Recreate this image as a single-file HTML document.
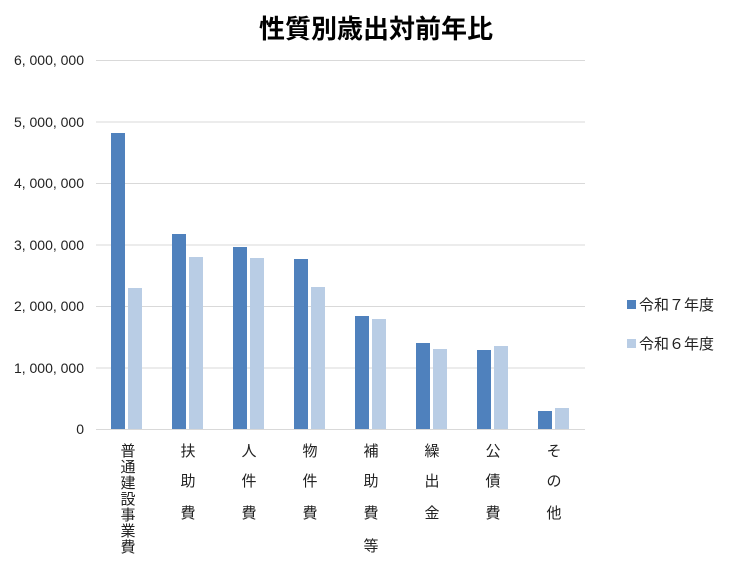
<!DOCTYPE html>
<html><head><meta charset="utf-8"><style>
body{margin:0;background:#fff}
text{font-family:"Liberation Sans","Noto Sans CJK JP",sans-serif;fill:#222}
</style></head><body>
<svg width="751" height="583" xmlns="http://www.w3.org/2000/svg">
<text x="376" y="38" font-size="26" font-weight="bold" text-anchor="middle" style="fill:#000">性質別歳出対前年比</text>
<g stroke="#d9d9d9" stroke-width="1">
<line x1="96" x2="585" y1="60.5" y2="60.5"/><line x1="96" x2="585" y1="122" y2="122"/>
<line x1="96" x2="585" y1="183.5" y2="183.5"/><line x1="96" x2="585" y1="245" y2="245"/>
<line x1="96" x2="585" y1="306.5" y2="306.5"/><line x1="96" x2="585" y1="368" y2="368"/>
<line x1="96" x2="585" y1="429.5" y2="429.5"/>
</g>
<g font-size="14" text-anchor="end">
<text x="84" y="65">6, 000, 000</text><text x="84" y="127">5, 000, 000</text>
<text x="84" y="188">4, 000, 000</text><text x="84" y="250">3, 000, 000</text>
<text x="84" y="311">2, 000, 000</text><text x="84" y="373">1, 000, 000</text>
<text x="84" y="434">0</text>
</g>
<g fill="#4f81bd">
<rect x="111" y="133" width="14" height="296"/>
<rect x="172" y="234" width="14" height="195"/>
<rect x="233" y="247" width="14" height="182"/>
<rect x="294" y="259" width="14" height="170"/>
<rect x="355" y="316" width="14" height="113"/>
<rect x="416" y="343" width="14" height="86"/>
<rect x="477" y="350" width="14" height="79"/>
<rect x="538" y="411" width="14" height="18"/>
</g>
<g fill="#b9cde5">
<rect x="128" y="288" width="14" height="141"/>
<rect x="189" y="257" width="14" height="172"/>
<rect x="250" y="258" width="14" height="171"/>
<rect x="311" y="287" width="14" height="142"/>
<rect x="372" y="319" width="14" height="110"/>
<rect x="433" y="349" width="14" height="80"/>
<rect x="494" y="346" width="14" height="83"/>
<rect x="555" y="408" width="14" height="21"/>
</g>
<g font-size="15" text-anchor="middle">
<text x="128" y="456">普</text><text x="128" y="472">通</text><text x="128" y="488">建</text><text x="128" y="504">設</text><text x="128" y="520">事</text><text x="128" y="536">業</text><text x="128" y="552">費</text>
<text x="188" y="456">扶</text><text x="188" y="486">助</text><text x="188" y="518">費</text>
<text x="249" y="456">人</text><text x="249" y="486">件</text><text x="249" y="518">費</text>
<text x="310" y="456">物</text><text x="310" y="486">件</text><text x="310" y="518">費</text>
<text x="371" y="456">補</text><text x="371" y="486">助</text><text x="371" y="518">費</text><text x="371" y="551">等</text>
<text x="432" y="456">繰</text><text x="432" y="486">出</text><text x="432" y="518">金</text>
<text x="493" y="456">公</text><text x="493" y="486">債</text><text x="493" y="518">費</text>
<text x="554" y="456">そ</text><text x="554" y="486">の</text><text x="554" y="518">他</text>
</g>
<rect x="627" y="300" width="9" height="9" fill="#4f81bd"/>
<text x="639" y="310" font-size="15">令和７年度</text>
<rect x="627" y="339" width="9" height="9" fill="#b9cde5"/>
<text x="639" y="349" font-size="15">令和６年度</text>
</svg>
</body></html>
